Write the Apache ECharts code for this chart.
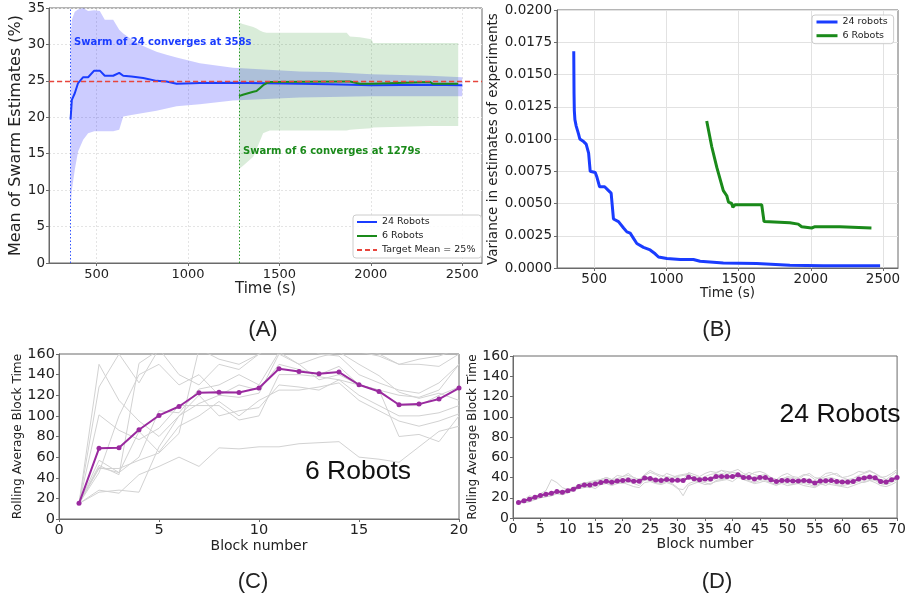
<!DOCTYPE html>
<html><head><meta charset="utf-8">
<script src="https://cdn.jsdelivr.net/npm/echarts@6/dist/echarts.min.js"></script>
<style>html,body{margin:0;padding:0;background:#fff}#c{width:909px;height:601px}</style>
</head><body><div id="c"></div><script>
// ---------- Panel A data ----------
const A_X_TICKS = [500, 1000, 1500, 2000, 2500];
const A_BLUE_T = [358, 365, 381, 399, 427, 454, 487, 518, 545, 591, 624, 646, 691, 755, 828, 883, 938, 1065, 1246, 1612, 1776, 2004, 2323, 2500];
const A_BLUE_MEAN = [19.7, 22.4, 23.3, 24.7, 25.5, 25.5, 26.4, 26.4, 25.7, 25.7, 26.1, 25.7, 25.6, 25.4, 25.0, 24.9, 24.6, 24.7, 24.75, 24.6, 24.55, 24.4, 24.45, 24.4];
const A_BLUE_UPPER = [31.0, 33.4, 34.5, 34.8, 35.0, 34.6, 34.7, 34.6, 33.4, 33.4, 32.0, 31.5, 30.7, 29.8, 29.0, 28.6, 28.2, 27.4, 26.8, 26.3, 26.2, 25.9, 25.7, 25.5];
const A_BLUE_LOWER = [7.5, 10.0, 12.8, 15.3, 16.9, 17.8, 18.1, 18.1, 18.1, 18.1, 18.3, 20.1, 20.3, 20.6, 20.9, 21.2, 21.5, 21.8, 22.3, 22.7, 22.8, 22.9, 22.9, 22.9];
const A_GREEN_T = [1279, 1300, 1357, 1375, 1393, 1411, 1430, 1448, 1868, 1886, 1940, 2004, 2013, 2323, 2340, 2478];
const A_GREEN_MEAN = [22.9, 23.1, 23.5, 23.6, 24.0, 24.4, 24.7, 24.85, 24.9, 24.9, 24.6, 24.6, 24.85, 24.85, 24.6, 24.6];
const A_GREEN_UPPER = [33.0, 32.8, 32.4, 32.2, 31.9, 31.7, 31.6, 31.6, 31.6, 31.1, 31.0, 30.7, 30.2, 30.2, 30.2, 30.2];
const A_GREEN_LOWER = [12.9, 13.3, 14.6, 15.6, 16.7, 17.8, 18.0, 18.2, 18.2, 18.3, 18.4, 18.5, 18.6, 18.8, 18.8, 18.8];
const A_TARGET = 25;
const A_CONV24 = 358;
const A_CONV6 = 1279;

// ---------- Panel B data ----------
const B_X_TICKS = [500, 1000, 1500, 2000, 2500];
const B_24_T = [358, 360, 362, 366, 375, 391, 400, 426, 444, 461, 472, 507, 517, 537, 572, 599, 617, 633, 668, 703, 726, 749, 772, 795, 841, 887, 922, 945, 1003, 1095, 1187, 1233, 1394, 1625, 1855, 2086, 2480];
const B_24_V = [0.0168, 0.0135, 0.0122, 0.0115, 0.0110, 0.0104, 0.0100, 0.0098, 0.0096, 0.0089, 0.0075, 0.0074, 0.0071, 0.0063, 0.0063, 0.0060, 0.0058, 0.0038, 0.0036, 0.0031, 0.0028, 0.0027, 0.0023, 0.0019, 0.0016, 0.0014, 0.0011, 0.00085, 0.00073, 0.00066, 0.00066, 0.00052, 0.00039, 0.00035, 0.00022, 0.00017, 0.00017];
const B_6_T = [1279, 1314, 1349, 1394, 1418, 1430, 1452, 1460, 1475, 1660, 1676, 1855, 1913, 1937, 2006, 2029, 2201, 2420];
const B_6_V = [0.0114, 0.0094, 0.0078, 0.0060, 0.0056, 0.0051, 0.0050, 0.0047, 0.0049, 0.0049, 0.0036, 0.0035, 0.0034, 0.0032, 0.0031, 0.0032, 0.0032, 0.0031];

// ---------- Panel C data ----------
const C_BLOCKS = [1,2,3,4,5,6,7,8,9,10,11,12,13,14,15,16,17,18,19,20];
const C_MEAN = [15.2, 68.5, 69, 86.5, 100.4, 109.1, 122.4, 123, 122.7, 127, 145.7, 143.1, 140.9, 142.5, 130.2, 123.7, 110.8, 111.4, 116.3, 127];
const C_RUN1 = [15,150,115,95,80,100,120,100,105,108, 130,128,125,135,130,125,120,118,125,150];
const C_RUN2 = [15,128,160,132,165,140,130,150,145,160, 172,170,160,158,140,132,125,122,132,150];
const C_RUN3 = [15,101,86,77,88,110,110,110,96,100, 140,140,138,135,120,110,100,100,103,110];
const C_RUN4 = [15,52,43,151,164,175,170,162,175,180, 178,185,190,175,165,160,150,150,148,160];
const C_RUN5 = [15,49,49,57,64,83,165,155,150,160, 170,165,162,165,162,158,150,155,158,165];
const C_RUN6 = [15,28,25,43,51,60,51,69,68,70, 70,73,74,75,60,58,55,70,85,90];
const C_RUN7 = [15,26,28,26,70,100,112,120,130,125, 150,145,140,148,130,125,110,110,120,128];
const C_RUN8 = [15,57,45,85,65,90,100,114,100,115, 125,125,128,132,115,105,95,90,95,102];
const C_RUN9 = [15,45,100,140,150,130,140,120,118,122, 160,150,135,140,130,125,80,82,75,100];
const C_RUN10 = [15,50,45,60,105,103,126,130,140,130, 162,150,157,162,150,139,123,117,122,115];

// ---------- Panel D data ----------
const D_BLOCKS = Array.from({length:70}, (_, i) => i + 1);
const D_MEAN = [15.4,17.0,18.6,20.5,22.2,23.5,24.5,26.1,25.5,26.8, 28.4,31.0,32.7,32.7,33.7,35.0,36.3,35.3,36.6,37.0,
  37.6,36.3,36.3,39.6,39.0,37.6,37.0,38.0,37.3,37.3, 37.0,40.2,38.8,37.8,38.4,38.4,41.0,41.0,41.0,41.0,
  42.7,40.0,40.0,38.4,40.0,40.0,37.8,36.1,37.1,37.1, 36.5,36.5,37.1,36.5,34.5,36.5,36.8,37.1,36.1,35.5,
  35.5,36.1,38.4,39.4,40.4,39.7,36.1,35.5,37.8,40.0];
const D_RUN1 = [15,18,22,20,24,27,38,35,30,28, 30,33,35,34,36,38,40,38,42,41, 44,40,38,42,45,43,40,44,42,40, 38,45,43,41,44,46,45,47,44,46, 48,44,42,45,46,44,40,38,42,44, 41,40,43,42,38,40,44,45,42,40, 41,43,46,45,47,44,40,41,44,48];
const D_RUN2 = [15,16,17,19,20,21,22,24,23,25, 27,29,30,31,29,33,34,32,34,35, 33,31,30,35,36,34,33,35,33,29, 28,34,36,35,33,34,36,37,38,36, 40,38,36,34,35,37,35,33,34,32, 33,34,32,31,30,33,34,33,32,31, 30,32,34,36,37,35,32,31,33,36];
const D_RUN3 = [15,17,19,22,23,25,24,26,27,28, 30,33,34,36,37,38,40,38,39,41, 42,40,38,43,47,44,42,41,40,42, 43,44,40,38,41,43,44,47,46,45, 44,42,45,43,41,40,38,36,38,41, 40,38,42,44,40,39,41,43,44,40, 38,39,42,44,46,44,41,38,42,46];
const D_RUN4 = [15,15,16,18,20,21,22,24,24,25, 27,30,31,30,32,33,35,34,35,34, 36,34,32,38,37,35,34,36,34,30, 22,32,34,36,35,33,37,38,39,40, 41,38,37,35,37,36,34,32,35,34, 33,35,34,33,31,34,32,35,33,32, 33,34,36,35,37,38,34,33,35,38];
const D_RUN5 = [15,17,19,20,23,24,25,27,26,28, 30,32,34,35,36,37,38,37,38,39, 40,38,37,41,40,39,38,40,39,41, 42,43,41,40,39,40,42,44,43,45, 44,42,41,40,42,43,40,38,39,40, 38,37,39,38,36,38,39,40,38,37, 38,37,40,41,42,41,38,37,39,42];
const D_RUN6 = [15,16,18,21,22,23,24,26,25,27, 28,30,32,33,34,34,35,34,36,37, 37,36,35,38,38,36,36,37,36,38, 37,39,37,36,37,36,39,38,40,41, 42,39,40,37,39,38,37,35,36,37, 35,34,36,35,33,34,36,37,35,34, 35,36,37,38,39,37,34,33,36,40];

// ---------- styling ----------
const FONT = 'DejaVu Sans';
const FRAME = '#6a6a6a';
const BLUE = '#1a3cff';
const GREEN = '#1a8a1a';
const RED = '#e8453c';
const PURPLE = '#9a2a9f';
const GREY = '#d2d2d2';

function pairs(xs, ys) { return xs.map((x, i) => [x, ys[i]]); }

function band(name, xs, lo, hi, color, xi, yi) {
  return {
    type: 'custom', name: name, xAxisIndex: xi, yAxisIndex: yi, z: 1, silent: true,
    data: xs.map((x, i) => [x, lo[i], hi[i]]),
    encode: {x: 0, y: [1, 2]},
    renderItem: function (params, api) {
      if (params.dataIndex !== 0) return null;
      const pts = [];
      for (let i = 0; i < xs.length; i++) pts.push(api.coord([xs[i], hi[i]]));
      for (let i = xs.length - 1; i >= 0; i--) pts.push(api.coord([xs[i], lo[i]]));
      return {type: 'polygon', shape: {points: pts}, style: {fill: color}};
    }
  };
}

const plain = v => String(v);

function xAxisDef(gi, min, max, opts) {
  return Object.assign({
    gridIndex: gi, type: 'value', min: min, max: max,
    nameLocation: 'middle',
    nameTextStyle: {fontFamily: FONT, fontSize: opts.nameSize, color: '#222'},
    axisLine: {show: true, lineStyle: {color: FRAME, width: 1}},
    axisTick: {show: true, length: 3, lineStyle: {color: FRAME}, customValues: opts.custom},
    axisLabel: {fontFamily: FONT, fontSize: opts.labelSize, color: '#222', margin: opts.margin, customValues: opts.custom, formatter: plain},
    splitLine: {show: false}
  }, opts.extra || {});
}
function yAxisDef(gi, min, max, interval, opts) {
  return {
    gridIndex: gi, type: 'value', min: min, max: max, interval: interval,
    name: opts.name, nameLocation: 'middle', nameGap: opts.nameGap,
    nameTextStyle: {fontFamily: FONT, fontSize: opts.nameSize, color: '#222'},
    axisLine: {show: true, lineStyle: {color: FRAME, width: 1}},
    axisTick: {show: true, length: 3, lineStyle: {color: FRAME}},
    axisLabel: {fontFamily: FONT, fontSize: opts.labelSize, color: '#222', margin: opts.margin, formatter: opts.formatter || plain},
    splitLine: opts.split ? {show: true, lineStyle: opts.split} : {show: false}
  };
}

const A_GRID_STYLE = {color: '#e4e4e4', width: 1, type: [2, 2]};
const B_GRID_STYLE = {color: '#e2e2e2', width: 1, type: 'solid'};

function vGrid(xi, yi, ticks, style) {
  return {
    type: 'line', name: 'vgrid' + xi, xAxisIndex: xi, yAxisIndex: yi, data: [], silent: true,
    markLine: {silent: true, symbol: ['none', 'none'], z: 0, label: {show: false}, animation: false,
      lineStyle: style, data: ticks.map(t => ({xAxis: t}))}
  };
}

const cRuns = [C_RUN1, C_RUN2, C_RUN3, C_RUN4, C_RUN5, C_RUN6, C_RUN7, C_RUN8, C_RUN9, C_RUN10];
const dRuns = [D_RUN1, D_RUN2, D_RUN3, D_RUN4, D_RUN5, D_RUN6];

const series = [
  vGrid(0, 0, A_X_TICKS, A_GRID_STYLE),
  band('band24', A_BLUE_T, A_BLUE_LOWER, A_BLUE_UPPER, 'rgba(0,0,255,0.2)', 0, 0),
  band('band6', A_GREEN_T, A_GREEN_LOWER, A_GREEN_UPPER, 'rgba(0,128,0,0.15)', 0, 0),
  {type: 'line', name: '24 Robots', xAxisIndex: 0, yAxisIndex: 0, data: pairs(A_BLUE_T, A_BLUE_MEAN),
   symbol: 'none', lineStyle: {color: BLUE, width: 2}, itemStyle: {color: BLUE}, z: 4,
   markLine: {silent: true, symbol: ['none', 'none'], label: {show: false}, z: 3,
     lineStyle: {color: '#3355ff', width: 1, type: [1.5, 2]}, data: [{xAxis: A_CONV24}]}},
  {type: 'line', name: '6 Robots', xAxisIndex: 0, yAxisIndex: 0, data: pairs(A_GREEN_T, A_GREEN_MEAN),
   symbol: 'none', lineStyle: {color: GREEN, width: 2}, itemStyle: {color: GREEN}, z: 4,
   markLine: {silent: true, symbol: ['none', 'none'], label: {show: false}, z: 3,
     lineStyle: {color: '#2a9a2a', width: 1, type: [1.5, 2]}, data: [{xAxis: A_CONV6}]}},
  {type: 'line', name: 'Target Mean = 25%', xAxisIndex: 0, yAxisIndex: 0, data: [],
   symbol: 'none', lineStyle: {color: RED, width: 1.3, type: [5, 3]}, itemStyle: {color: RED},
   markLine: {silent: true, symbol: ['none', 'none'], label: {show: false}, z: 6,
     lineStyle: {color: RED, width: 1.3, type: [5, 3]}, data: [{yAxis: A_TARGET}]}},
  vGrid(1, 1, B_X_TICKS, B_GRID_STYLE),
  {type: 'line', name: '24 robots', xAxisIndex: 1, yAxisIndex: 1, data: pairs(B_24_T, B_24_V),
   symbol: 'none', lineStyle: {color: BLUE, width: 3}, itemStyle: {color: BLUE}, z: 4},
  {type: 'line', name: '6 Robots', xAxisIndex: 1, yAxisIndex: 1, data: pairs(B_6_T, B_6_V),
   symbol: 'none', lineStyle: {color: GREEN, width: 3}, itemStyle: {color: GREEN}, z: 4}
];
cRuns.forEach((r, k) => series.push({type: 'line', name: 'c' + k, xAxisIndex: 2, yAxisIndex: 2,
  data: pairs(C_BLOCKS, r), symbol: 'none', silent: true, lineStyle: {color: GREY, width: 1}, z: 2}));
series.push({type: 'line', name: 'cmean', xAxisIndex: 2, yAxisIndex: 2, data: pairs(C_BLOCKS, C_MEAN),
  symbol: 'circle', symbolSize: 5, lineStyle: {color: PURPLE, width: 2}, itemStyle: {color: PURPLE}, z: 5});
dRuns.forEach((r, k) => series.push({type: 'line', name: 'd' + k, xAxisIndex: 3, yAxisIndex: 3,
  data: pairs(D_BLOCKS, r), symbol: 'none', silent: true, lineStyle: {color: GREY, width: 1}, z: 2}));
series.push({type: 'line', name: 'dmean', xAxisIndex: 3, yAxisIndex: 3, data: pairs(D_BLOCKS, D_MEAN),
  symbol: 'circle', symbolSize: 5, lineStyle: {color: PURPLE, width: 2}, itemStyle: {color: PURPLE}, z: 5});

const gridBase = {show: true, borderColor: FRAME, borderWidth: 1, backgroundColor: 'transparent', containLabel: false};

const option = {
  animation: false,
  backgroundColor: '#ffffff',
  grid: [
    Object.assign({left: 49, top: 8, width: 433, height: 255}, gridBase),
    Object.assign({left: 557, top: 10, width: 341, height: 258}, gridBase),
    Object.assign({left: 59, top: 354, width: 400, height: 165}, gridBase),
    Object.assign({left: 513, top: 356, width: 388, height: 162}, gridBase)
  ],
  xAxis: [
    xAxisDef(0, 240, 2608, {custom: A_X_TICKS, labelSize: 13, margin: 5, nameSize: 15, extra: {name: 'Time (s)', nameGap: 17}}),
    xAxisDef(1, 242, 2604, {custom: B_X_TICKS, labelSize: 13.5, margin: 4, nameSize: 13.5, extra: {name: 'Time (s)', nameGap: 18}}),
    Object.assign(xAxisDef(2, 0, 20, {labelSize: 14.5, margin: 4, nameSize: 14, extra: {name: 'Block number', nameGap: 20}}), {interval: 5}),
    Object.assign(xAxisDef(3, 0, 70, {labelSize: 14, margin: 4, nameSize: 14, extra: {name: 'Block number', nameGap: 18}}), {interval: 5})
  ],
  yAxis: [
    yAxisDef(0, 0, 35, 5, {name: 'Mean of Swarm Estimates (%)', nameGap: 21, nameSize: 16, labelSize: 13.5, margin: 4, split: A_GRID_STYLE}),
    yAxisDef(1, 0, 0.02, 0.0025, {name: 'Variance in estimates of experiments', nameGap: 54, nameSize: 13.5, labelSize: 13.5, margin: 5, split: B_GRID_STYLE,
      formatter: v => v.toFixed(4)}),
    yAxisDef(2, 0, 160, 20, {name: 'Rolling Average Block Time', nameGap: 35, nameSize: 12.2, labelSize: 14.5, margin: 4}),
    yAxisDef(3, 0, 160, 20, {name: 'Rolling Average Block Time', nameGap: 31, nameSize: 12.2, labelSize: 14, margin: 4})
  ],
  legend: [
    {data: ['24 Robots', '6 Robots', 'Target Mean = 25%'], orient: 'vertical', left: 353, top: 215,
     itemWidth: 20, itemHeight: 10, itemGap: 4, padding: [2, 6, 3, 3], selectedMode: false,
     borderColor: '#cccccc', borderWidth: 1, borderRadius: 3, backgroundColor: 'rgba(255,255,255,0.85)',
     itemStyle: {opacity: 0},
     textStyle: {fontFamily: FONT, fontSize: 9.5, color: '#222'}},
    {data: ['24 robots', '6 Robots'], orient: 'vertical', left: 812, top: 15,
     itemWidth: 21, itemHeight: 10, itemGap: 3.7, padding: [2, 6, 3, 3], selectedMode: false,
     borderColor: '#cccccc', borderWidth: 1, borderRadius: 3, backgroundColor: 'rgba(255,255,255,0.85)',
     lineStyle: {width: 3}, itemStyle: {opacity: 0},
     textStyle: {fontFamily: FONT, fontSize: 9.5, color: '#222'}}
  ],
  graphic: [
    {type: 'text', x: 74, y: 42, z: 100, style: {text: 'Swarm of 24 converges at 358s', fontFamily: FONT, fontWeight: 'bold', fontSize: 10, fill: BLUE, align: 'left', verticalAlign: 'middle'}},
    {type: 'text', x: 243, y: 151, z: 100, style: {text: 'Swarm of 6 converges at 1279s', fontFamily: FONT, fontWeight: 'bold', fontSize: 10, fill: GREEN, align: 'left', verticalAlign: 'middle'}},
    {type: 'text', x: 358, y: 472, z: 100, style: {text: '6 Robots', fontFamily: 'Liberation Sans', fontSize: 26.5, fill: '#111', align: 'center', verticalAlign: 'middle'}},
    {type: 'text', x: 840, y: 415, z: 100, style: {text: '24 Robots', fontFamily: 'Liberation Sans', fontSize: 26.5, fill: '#111', align: 'center', verticalAlign: 'middle'}},
    {type: 'text', x: 263, y: 330, z: 100, style: {text: '(A)', fontFamily: 'Liberation Sans', fontSize: 22, fill: '#222', align: 'center', verticalAlign: 'middle'}},
    {type: 'text', x: 717, y: 330, z: 100, style: {text: '(B)', fontFamily: 'Liberation Sans', fontSize: 22, fill: '#222', align: 'center', verticalAlign: 'middle'}},
    {type: 'text', x: 253, y: 582, z: 100, style: {text: '(C)', fontFamily: 'Liberation Sans', fontSize: 22, fill: '#222', align: 'center', verticalAlign: 'middle'}},
    {type: 'text', x: 717, y: 582, z: 100, style: {text: '(D)', fontFamily: 'Liberation Sans', fontSize: 22, fill: '#222', align: 'center', verticalAlign: 'middle'}}
  ],
  series: series
};

const chart = echarts.init(document.getElementById('c'), null, {renderer: 'canvas'});
chart.setOption(option);
</script></body></html>
